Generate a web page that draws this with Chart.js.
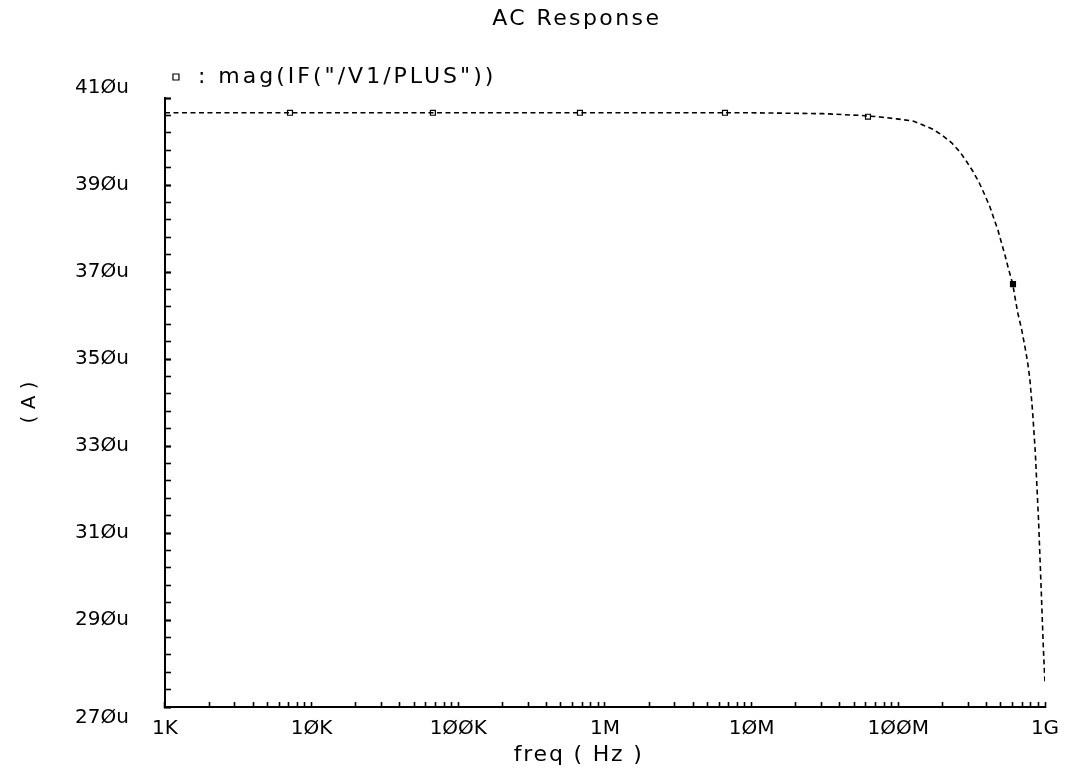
<!DOCTYPE html>
<html>
<head>
<meta charset="utf-8">
<title>AC Response</title>
<script src="https://cdn.jsdelivr.net/npm/chart.js@4.4.1/dist/chart.umd.min.js"></script>
<style>
  html, body { margin: 0; padding: 0; background: #fff; }
  #acChart { display: block; }
</style>
</head>
<body>
<canvas id="acChart" width="1084" height="771"></canvas>
<script>
// mag(IF("/V1/PLUS")) in uA
const freqs = [1e3, 1e4, 1e5, 1e6, 1e7, 30.6e6, 54.8e6, 75e6, 97.5e6, 126e6, 147e6, 172e6,
  198e6, 231e6, 263e6, 292e6, 323e6, 355e6, 390e6, 422e6, 449e6, 478e6, 507e6, 533e6,
  560e6, 603e6, 624e6, 654e6, 691e6, 730e6, 760e6, 788e6, 823e6, 858e6, 904e6, 948e6,
  976e6, 1e9];
const amps = [406.6, 406.6, 406.6, 406.6, 406.6, 406.4, 406.0, 405.65, 405.2, 404.7, 403.8, 402.8,
  401.5, 399.7, 397.6, 395.4, 393.1, 390.6, 387.6, 384.9, 382.2, 379.6, 376.5, 373.9,
  371.1, 367.2, 364.2, 360.4, 357.0, 352.8, 349.4, 345.5, 337.9, 328.8, 312.8, 294.5,
  283.0, 275.5];

// trace markers
const markerFreqs = [7.12e3, 67.1e3, 675e3, 6.58e6, 62.1e6, 605e6];
const markerAmps = [406.6, 406.6, 406.6, 406.6, 405.7, 367.2];

const xTickValues = [1e3, 1e4, 1e5, 1e6, 1e7, 1e8, 1e9];
const xTickLabels = ['1K', '1ØK', '1ØØK', '1M', '1ØM', '1ØØM', '1G'];
const yTickValues = [270, 290, 310, 330, 350, 370, 390, 410];
const yTickLabels = ['27Øu', '29Øu', '31Øu', '33Øu', '35Øu', '37Øu', '39Øu', '41Øu'];

const FONT = "'DejaVu Sans', sans-serif";
const SIZE = 20;
const font = { family: FONT, size: SIZE, weight: 'normal', lineHeight: 1.2 };
const textFont = { family: FONT, size: 22, weight: 'normal', lineHeight: 1.2 };
const NBSP6 = '\u00a0'.repeat(6);

Chart.defaults.font.family = FONT;
Chart.defaults.color = '#000';

// end labels sit outside their ticks
const yLabelShift = (v) => (v >= 409 ? -10 : v <= 271 ? 11 : 0);

// the plot font is much wider than DejaVu for titles, so space those out
function spaced(obj, method, px) {
  if (!obj || obj['_spaced_' + method]) return;
  const orig = obj[method];
  obj[method] = function (...args) {
    const c = this.ctx;
    c.letterSpacing = px;
    const r = orig.apply(this, args);
    c.letterSpacing = '0px';
    return r;
  };
  obj['_spaced_' + method] = true;
}
const letterSpacing = {
  id: 'letterSpacing',
  beforeDraw(chart) {
    spaced(chart.titleBlock, 'draw', '2.4px');
    spaced(chart.legend, 'draw', '3px');
    spaced(chart.scales.x, 'drawTitle', '1.8px');
  },
};

const ctx = document.getElementById('acChart').getContext('2d');
const chart = new Chart(ctx, {
  type: 'line',
  data: {
    datasets: [
      {
        label: 'trace',
        data: freqs.map((f, i) => ({ x: f, y: amps[i] })),
        borderColor: '#000',
        borderWidth: 1.6,
        borderDash: [5, 3.5],
        pointRadius: 0,
        tension: 0,
        fill: false,
      },
      {
        label: ': mag(IF("/V1/PLUS"))',
        data: markerFreqs.map((f, i) => ({ x: f, y: markerAmps[i] })),
        showLine: false,
        pointStyle: 'rect',
        pointRadius: 3.5,
        pointBorderWidth: 1.2,
        pointBorderColor: '#000',
        pointBackgroundColor: ['#fff', '#fff', '#fff', '#fff', '#fff', '#000'],
      },
    ],
  },
  options: {
    responsive: false,
    animation: false,
    devicePixelRatio: 1,
    layout: { padding: { left: 0, right: 39, top: 0, bottom: 0 } },
    plugins: {
      title: {
        display: true,
        text: 'AC Response' + NBSP6,
        color: '#000',
        font: textFont,
        fullSize: false,
        padding: { top: 6, bottom: 33.6 },
      },
      legend: {
        display: true,
        position: 'top',
        align: 'start',
        fullSize: false,
        labels: {
          filter: (item) => item.datasetIndex === 1,
          usePointStyle: true,
          boxWidth: 22,
          boxHeight: 6,
          padding: 0,
          color: '#000',
          font: textFont,
        },
      },
      tooltip: { enabled: false },
    },
    scales: {
      x: {
        type: 'logarithmic',
        min: 1e3,
        max: 1e9,
        afterBuildTicks: (scale) => {
          const ticks = [];
          for (let i = 0; i < xTickValues.length - 1; i++) {
            for (let k = 1; k <= 9; k++) ticks.push({ value: k * xTickValues[i] });
          }
          ticks.push({ value: xTickValues[xTickValues.length - 1] });
          scale.ticks = ticks;
        },
        ticks: {
          autoSkip: false,
          maxRotation: 0,
          padding: 15,
          color: '#000',
          font: font,
          callback: (value) => {
            const i = xTickValues.findIndex(d => Math.abs(value - d) / d < 1e-6);
            return i >= 0 ? xTickLabels[i] : '';
          },
        },
        grid: {
          drawOnChartArea: false,
          tickLength: -5,
          tickColor: '#000',
          tickWidth: 1.6,
        },
        border: { display: true, color: '#000', width: 2 },
        title: {
          display: true,
          text: 'freq ( Hz )' + NBSP6,
          color: '#000',
          font: textFont,
          padding: { top: -14.2, bottom: 2.8 },
        },
      },
      y: {
        type: 'linear',
        min: 270,
        max: 410,
        ticks: {
          stepSize: 4,
          autoSkip: false,
          padding: 42,
          color: '#000',
          font: (c) => ({
            family: FONT,
            size: SIZE,
            lineHeight: Math.max(2 * Math.abs(yLabelShift(c.tick ? c.tick.value : 0)), 1) + 'px',
          }),
          callback: (value) => {
            const i = yTickValues.indexOf(Math.round(value));
            if (i < 0) return '';
            const s = yLabelShift(value);
            if (s === 0) return yTickLabels[i];
            return s < 0 ? [yTickLabels[i], ''] : ['', yTickLabels[i]];
          },
        },
        grid: {
          drawOnChartArea: false,
          tickLength: -6,
          tickColor: '#000',
          tickWidth: (c) => (c.tick && yTickValues.includes(Math.round(c.tick.value)) ? 2.2 : 1.6),
        },
        border: { display: true, color: '#000', width: 2 },
        title: {
          display: true,
          text: '( A )',
          color: '#000',
          font: font,
          padding: { top: 18, bottom: -8.9 },
        },
      },
    },
  },
  plugins: [letterSpacing],
});
</script>
</body>
</html>
